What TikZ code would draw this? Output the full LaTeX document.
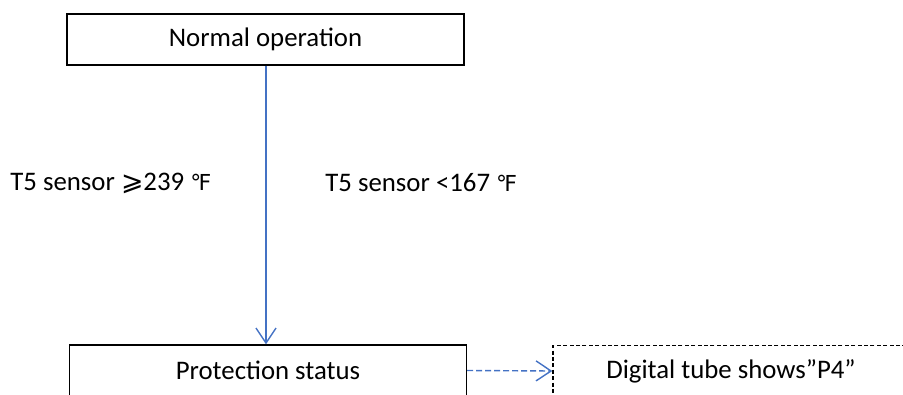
\documentclass[tikz,border=0pt]{standalone}
\usepackage{fontspec}
\setmainfont{Carlito}
\newfontfamily\dejavu{DejaVu Sans}
\usetikzlibrary{arrows.meta}
\definecolor{flowblue}{RGB}{68,114,196}
\begin{document}
\begin{tikzpicture}[x=0.5pt, y=-0.5pt]

% definitions
\tikzstyle{state} = [rectangle, minimum width=198.5pt, minimum height=25.5pt, text centered, draw=black, line width=0.7pt, inner sep=0pt, font=\fontsize{13.4}{15}\selectfont]

\tikzstyle{display} = [state, dashed, dash pattern=on 2pt off 1.2pt, minimum width=178pt]

\tikzstyle{cond} = [anchor=west, inner sep=0pt, font=\fontsize{13.4}{15}\selectfont]

\tikzstyle{arrow} = [-{Straight Barb[length=7.5pt, width=10pt]}, draw=flowblue, line width=0.7pt]

\useasboundingbox (0,0) rectangle (903,395);

% the graph
\node (normal) [state] at (265.5,39.5) {Normal operation};

\node (protect) [state] at (268,370.5) {Protection status};

\node (digit) [display] at (731,371) {Digital tube shows”P4”};

\node (high) [cond] at (10,183) {T5 sensor {\dejavu ⩾}239 {\dejavu\fontsize{11}{13}\selectfont ℉}};

\node (low) [cond] at (325,183) {T5 sensor <167 {\dejavu\fontsize{11}{13}\selectfont ℉}};


\draw [arrow] (normal.south -| 266,0) -- (protect.north -| 266,0);
\draw [arrow, dashed, dash pattern=on 3pt off 1.5pt] (protect.east) -- (digit.west);

\end{tikzpicture}
\end{document}
